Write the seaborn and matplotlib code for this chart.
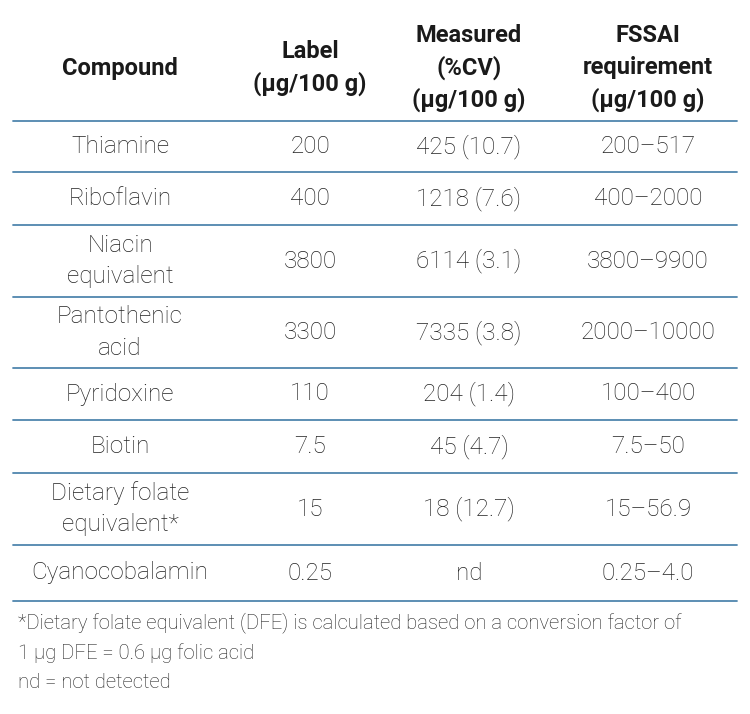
import matplotlib.pyplot as plt
import seaborn as sns

sns.set_style("white")
plt.rcParams['font.family'] = ['Roboto', 'DejaVu Sans']

headers = ["Compound", "Label\n(µg/100 g)", "Measured\n(%CV)\n(µg/100 g)", "FSSAI\nrequirement\n(µg/100 g)"]
compounds = ["Thiamine", "Riboflavin", "Niacin\nequivalent", "Pantothenic\nacid", "Pyridoxine",
             "Biotin", "Dietary folate\nequivalent*", "Cyanocobalamin"]
label = ["200", "400", "3800", "3300", "110", "7.5", "15", "0.25"]
measured = ["425 (10.7)", "1218 (7.6)", "6114 (3.1)", "7335 (3.8)", "204 (1.4)", "45 (4.7)", "18 (12.7)", "nd"]
fssai = ["200–517", "400–2000", "3800–9900", "2000–10000", "100–400", "7.5–50", "15–56.9", "0.25–4.0"]
footnote = ["*Dietary folate equivalent (DFE) is calculated based on a conversion factor of",
            "1 µg DFE = 0.6 µg folic acid", "nd = not detected"]

W, H = 750, 714
fig = plt.figure(figsize=(7.5, 7.14), dpi=100)
ax = fig.add_axes([0, 0, 1, 1])
ax.set_xlim(0, W)
ax.set_ylim(H, 0)
ax.axis("off")

xs = [120, 310, 469, 648]
lines = [121, 172, 225, 297, 368, 420, 473, 545, 601]
for y in lines:
    ax.plot([13, 737], [y, y], color="#4f86ae", lw=1.3)

for x, h in zip(xs, headers):
    ax.text(x, 68, h, ha="center", va="center", fontsize=17, fontweight="bold",
            color="#1a1a1a", linespacing=1.45)

cols = [compounds, label, measured, fssai]
for i in range(len(compounds)):
    yc = (lines[i] + lines[i + 1]) / 2
    for x, col in zip(xs, cols):
        ax.text(x, yc, col[i], ha="center", va="center", fontsize=17.5,
                color="#222222", fontweight="light", linespacing=1.45)

for j, t in enumerate(footnote):
    ax.text(18, 623 + j * 30, t, ha="left", va="center", fontsize=14.6,
            color="#222222", fontweight="light")

fig.savefig("out.png", dpi=100)
